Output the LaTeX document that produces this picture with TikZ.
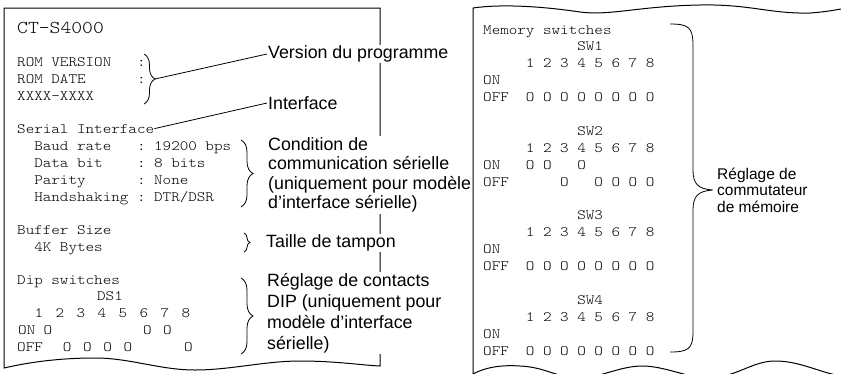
\documentclass[tikz,border=0pt]{standalone}
\usepackage{fontspec}
\setmainfont{Liberation Sans}
\setmonofont{lmmonolt10-regular}[Extension=.otf, FakeStretch=1.14]
\usetikzlibrary{decorations.pathreplacing}

\begin{document}
\begin{tikzpicture}[
x=1pt, y=-1pt,
prt/.style={font=\fontsize{14.3pt}{17pt}\ttfamily, inner sep=0pt, anchor=base west},
lbl/.style={font=\fontsize{17.8pt}{19.5pt}\selectfont, align=left, anchor=west, fill=white, inner sep=1pt},
paper/.style={line width=1pt},
brc/.style={decorate, decoration={brace, amplitude=#1}, line width=0.8pt},
lead/.style={line width=0.8pt}
]
\useasboundingbox (0,0) rectangle (841,373);

% printed sheets
\draw[paper] (380,8) -- (4,8) -- (4,368) .. controls (30,362) and (60,358) .. (95,358) .. controls (130,358) and (160,370) .. (195,370) .. controls (230,370) and (265,361) .. (300,361) .. controls (335,361) and (360,365) .. (380,366) -- cycle;
\draw[paper] (841,9) .. controls (835,10) and (825,12) .. (810,13) .. controls (770,14) and (750,4) .. (700,5) .. controls (640,6) and (610,16) .. (580,12) .. controls (540,6) and (500,4) .. (473,8) -- (473,374) .. controls (488,366) and (505,365) .. (520,366) .. controls (545,367) and (558,378) .. (578,378) .. controls (600,378) and (620,366) .. (642,366) .. controls (665,366) and (688,378) .. (708,378) .. controls (735,378) and (752,361) .. (775,361) .. controls (800,361) and (818,372) .. (841,376);

% left sheet
\node[prt, font=\fontsize{18.1pt}{20pt}\ttfamily] (model) at (17,33) {CT-S4000};
\node[prt] (romver) at (17,66) {ROM VERSION~~~:};
\node[prt] (romdate) at (17,83) {ROM DATE~~~~~~:};
\node[prt] (romid) at (17,100) {XXXX-XXXX};
\node[prt] (serial) at (17,133) {Serial Interface};
\node[prt] (baud) at (17,150) {~~Baud rate~~~:~19200 bps};
\node[prt] (databit) at (17,167) {~~Data bit~~~~:~8 bits};
\node[prt] (parity) at (17,184) {~~Parity~~~~~~:~None};
\node[prt] (handshake) at (17,201) {~~Handshaking~:~DTR/DSR};
\node[prt] (buffer) at (17,234) {Buffer Size};
\node[prt] (bufsize) at (17,251) {~~4K Bytes};
\node[prt] (dip) at (17,284) {Dip switches};
\node[prt, anchor=base] (ds1) at (110,300) {DS1};
\foreach \i in {1,...,8} \node[prt, anchor=base] (dsnum\i) at ({39+21*(\i-1)},317) {\i};
\node[prt] (dson) at (18,334) {ON};
\node[prt] (dsoff) at (17,351) {OFF};
\foreach \i in {1,6,7} \node[prt, anchor=base] (dson\i) at ({48+19.9*(\i-1)},334) {O};
\foreach \i in {2,3,4,5,8} \node[prt, anchor=base] (dsoff\i) at ({47+20.2*(\i-1)},351) {O};

% right sheet
\node[prt] (memory) at (483,34) {Memory switches};
\foreach \s/\y/\on/\off in {1/50.9/{}/{~~O~O~O~O~O~O~O~O}, 2/135.4/{~~~O~O~~~O}/{~~~~~~O~~~O~O~O~O}, 3/219.9/{}/{~~O~O~O~O~O~O~O~O}, 4/304.4/{}/{~~O~O~O~O~O~O~O~O}} {
  \node[prt] (sw\s) at (483,\y) {~~~~~~~~~~~SW\s};
  \node[prt] (swnum\s) at (483,\y+16.9) {~~~~~1~2~3~4~5~6~7~8};
  \node[prt] (swon\s) at (483,\y+33.8) {ON\on};
  \node[prt] (swoff\s) at (483,\y+50.7) {OFF\off};
}

% notes
\node[lbl] (version) at (267,54) {Version du programme};
\node[lbl] (iface) at (267,103) {Interface};
\node[lbl] (cond) at (267,175) {Condition de\\communication sérielle\\(uniquement pour modèle\\d’interface sérielle)};
\node[lbl] (buftxt) at (265,243) {Taille de tampon};
\node[lbl, font=\fontsize{17.8pt}{21pt}\selectfont] (diptxt) at (266,313) {Réglage de contacts\\DIP (uniquement pour\\modèle d’interface\\sérielle)};
\node[lbl, font=\fontsize{15.5pt}{16.5pt}\selectfont] (memtxt) at (716,190) {Réglage de\\commutateur\\de mémoire};

\draw[brc=11pt] (144,54) -- (144,104);
\draw[brc=12pt] (241,140) -- (241,207);
\draw[brc=6pt] (244,233) -- (244,252);
\draw[brc=12pt] (241,278) -- (241,354);
\draw[line width=0.8pt] (670,24) .. controls (688,24) and (693,27) .. (693,45) -- (693,170) .. controls (693,184) and (698,189) .. (713,190) .. controls (698,191) and (693,196) .. (693,210) -- (693,332) .. controls (693,349) and (688,352) .. (670,352);

\coordinate (romtip) at (155,79);
\draw[lead] (romtip) -- (version.west);
\draw[lead] (serial.east) -- (iface.west);

\end{tikzpicture}
\end{document}
